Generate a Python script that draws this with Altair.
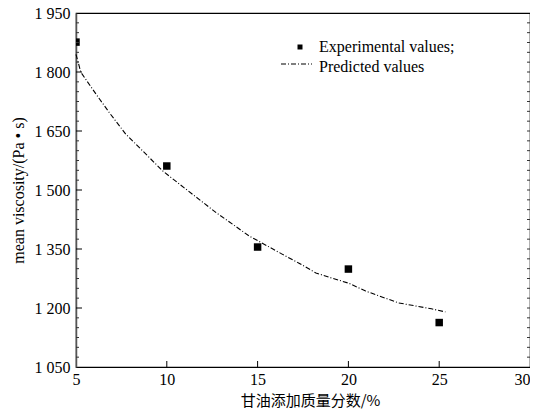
import altair as alt
import pandas as pd

# ---- data ----
exp_x = [5, 10, 15, 20, 25]
exp_y = [1876, 1561, 1355, 1299, 1163]

pred_x = [5.0, 5.27, 6.10, 6.83, 7.74, 8.66, 9.76, 11.03, 12.73, 14.54, 16.35,
          17.28, 18.21, 19.09, 20.02, 20.95, 22.76, 24.57, 25.34]
pred_y = [1845, 1799, 1744, 1697, 1642, 1600, 1549, 1503, 1442, 1383, 1337,
          1314, 1289, 1276, 1263, 1243, 1213, 1198, 1190]

y_ticks = [1050, 1200, 1350, 1500, 1650, 1800, 1950]
y_minor = [1075, 1100, 1125, 1150, 1175, 1225, 1250, 1275, 1300, 1325,
           1375, 1400, 1425, 1450, 1475, 1525, 1550, 1575, 1600, 1625,
           1675, 1700, 1725, 1750, 1775, 1825, 1850, 1875, 1900, 1925]
x_ticks = [5, 10, 15, 20, 25, 30]
legend_labels = ["Experimental values;", "Predicted values"]
x_title = "甘油添加质量分数/%"
y_title = "mean viscosity/(Pa • s)"

W, H = 454, 354
SERIF = "Liberation Serif"
CJK = "Noto Sans CJK SC"

xs = alt.Scale(domain=[5, 30], nice=False, zero=False)
ys = alt.Scale(domain=[1050, 1950], nice=False, zero=False)

exp_df = pd.DataFrame({"x": exp_x, "y": exp_y})
pred_df = pd.DataFrame({"x": pred_x, "y": pred_y})
ymaj_df = pd.DataFrame({"y": y_ticks[1:-1]})
ymin_df = pd.DataFrame({"y": y_minor})
yall_df = pd.DataFrame({"y": sorted(y_minor + y_ticks[1:-1])})
xmaj_df = pd.DataFrame({"x": x_ticks[1:-1]})
one = pd.DataFrame({"k": [0]})

label_expr = "replace(format(datum.value, ','), ',', ' ')"

points = alt.Chart(exp_df).mark_square(size=56, color="black", opacity=1, clip=True).encode(
    x=alt.X("x:Q", scale=xs, axis=alt.Axis(
        values=x_ticks, title=x_title, ticks=False, grid=False,
        labelFont=SERIF, labelFontSize=16, labelPadding=4, labelColor="black",
        labelFlush=False,
        labelAlign={"condition": {"test": "datum.value >= 30", "value": "right"}, "value": "center"},
        titleFont=CJK, titleFontSize=15, titleFontWeight="normal",
        titleColor="black", titlePadding=6, titleX=234,
        domainColor="black", domainWidth=1.2)),
    y=alt.Y("y:Q", scale=ys, axis=alt.Axis(
        values=y_ticks, title=y_title, ticks=False, grid=False,
        labelExpr=label_expr,
        labelFont=SERIF, labelFontSize=16, labelPadding=6, labelColor="black",
        labelFlush=False,
        titleFont=SERIF, titleFontSize=16, titleFontWeight="normal",
        titleColor="black", titlePadding=8,
        domainColor="#555", domainWidth=1.5)),
)

line = alt.Chart(pred_df).mark_line(
    color="black", strokeWidth=1.1, strokeDash=[5, 2, 1, 2]
).encode(
    x=alt.X("x:Q", scale=xs),
    y=alt.Y("y:Q", scale=ys),
)

left_major = alt.Chart(ymaj_df).mark_rule(color="black", strokeWidth=1).encode(
    y=alt.Y("y:Q", scale=ys), x=alt.value(0), x2=alt.value(6))
left_minor = alt.Chart(ymin_df).mark_rule(color="#333", strokeWidth=1).encode(
    y=alt.Y("y:Q", scale=ys), x=alt.value(0), x2=alt.value(3))
right_minor = alt.Chart(yall_df).mark_rule(color="#333", strokeWidth=1).encode(
    y=alt.Y("y:Q", scale=ys), x=alt.value(W - 3), x2=alt.value(W))
bottom_major = alt.Chart(xmaj_df).mark_rule(color="black", strokeWidth=1).encode(
    x=alt.X("x:Q", scale=xs), y=alt.value(H), y2=alt.value(H - 6))

leg_sq = alt.Chart(one).mark_square(size=25, color="black", opacity=1).encode(
    x=alt.value(224), y=alt.value(34))
leg_line = alt.Chart(one).mark_rule(color="black", strokeWidth=1.1, strokeDash=[5, 2, 1, 2]).encode(
    x=alt.value(205), x2=alt.value(236), y=alt.value(51))
leg_t1 = alt.Chart(one).mark_text(font=SERIF, fontSize=16, align="left", baseline="middle", color="black").encode(
    x=alt.value(243), y=alt.value(34), text=alt.value(legend_labels[0]))
leg_t2 = alt.Chart(one).mark_text(font=SERIF, fontSize=16, align="left", baseline="middle", color="black").encode(
    x=alt.value(243), y=alt.value(54), text=alt.value(legend_labels[1]))

chart = alt.layer(
    points, line, left_major, left_minor, right_minor, bottom_major,
    leg_sq, leg_line, leg_t1, leg_t2
).properties(
    width=W, height=H,
    padding={"left": 68, "top": 5, "right": 0, "bottom": 43},
    autosize=alt.AutoSizeParams(type="none"),
    background="white",
).configure_view(stroke="black", strokeWidth=1.2)

chart.save("out.html", embed_options={"renderer": "svg", "actions": False})
